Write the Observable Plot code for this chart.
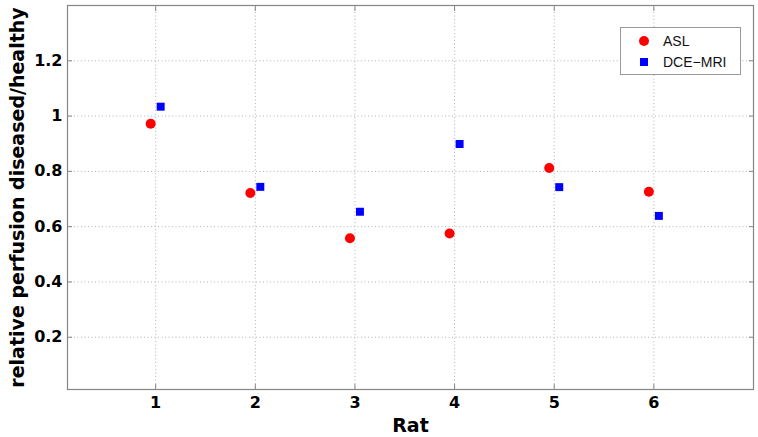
<!DOCTYPE html>
<html>
<head>
<meta charset="utf-8">
<script src="https://cdn.jsdelivr.net/npm/d3@7"></script>
<script src="https://cdn.jsdelivr.net/npm/@observablehq/plot@0.6"></script>
<style>
  html, body { margin: 0; padding: 0; background: #fff; }
  #wrap { position: relative; width: 758px; height: 437px; }
  #legend {
    position: absolute; left: 620px; top: 27px; width: 119px; height: 46px;
    border: 1px solid #9a9a9a; background: #fff;
    font-family: "Liberation Sans", Arial, sans-serif; font-size: 14px; color: #111;
  }
  .row { position: absolute; left: 0; height: 20px; display: flex; align-items: center; }
  .sym { width: 24px; display: flex; justify-content: center; margin-left: 11px; margin-right: 7px; }
  .circ { width: 10px; height: 10px; border-radius: 50%; background: #ff0000; }
  .sq { width: 8px; height: 8px; background: #0000ff; }
</style>
</head>
<body>
<div id="wrap"></div>
<script>
const rats = [1, 2, 3, 4, 5, 6];
const aslValues = [0.972, 0.722, 0.558, 0.575, 0.812, 0.726];
const dceValues = [1.034, 0.744, 0.654, 0.899, 0.743, 0.639];
const seriesNames = ["ASL", "DCE\u2212MRI"];
const xTicks = [1, 2, 3, 4, 5, 6];
const yTicks = [0.2, 0.4, 0.6, 0.8, 1, 1.2];
const xDomain = [0.115, 7];
const yDomain = [0.011, 1.4];
const xTitle = "Rat";
const yTitle = "relative perfusion diseased/healthy";

const asl = rats.map((r, i) => ({rat: r, value: aslValues[i]}));
const dce = rats.map((r, i) => ({rat: r, value: dceValues[i]}));

const axisGray = "#858585";
const gridGray = "#b4b4b4";

const chart = Plot.plot({
  width: 758,
  height: 437,
  marginLeft: 67,
  marginRight: 5,
  marginTop: 5,
  marginBottom: 48,
  style: {fontFamily: "'DejaVu Sans', sans-serif", fontSize: "16px", fontWeight: "bold", color: "black", background: "white"},
  x: {domain: xDomain},
  y: {domain: yDomain},
  marks: [
    Plot.gridX({ticks: xTicks, stroke: gridGray, strokeOpacity: 1, strokeDasharray: "1,2.5"}),
    Plot.gridY({ticks: yTicks, stroke: gridGray, strokeOpacity: 1, strokeDasharray: "1,2.5"}),
    Plot.frame({stroke: axisGray, strokeWidth: 1.2}),
    Plot.axisX({ticks: xTicks, anchor: "bottom", tickSize: -5, tickPadding: 12, stroke: axisGray, fill: "black", label: null, tickFormat: d => String(d), fontSize: 16, fontWeight: "bold"}),
    Plot.axisX({ticks: xTicks, anchor: "top", tickSize: -5, stroke: axisGray, fill: "none", label: null}),
    Plot.axisY({ticks: yTicks, anchor: "left", tickSize: -5, tickPadding: 10, stroke: axisGray, fill: "black", label: null, tickFormat: d => String(d), fontSize: 16, fontWeight: "bold"}),
    Plot.axisY({ticks: yTicks, anchor: "right", tickSize: -5, stroke: axisGray, fill: "none", label: null}),
    Plot.text([xTitle], {text: d => d, frameAnchor: "bottom", dy: 36, lineAnchor: "middle", fontSize: 19, fontWeight: "bold", fill: "black"}),
    Plot.text([yTitle], {text: d => d, frameAnchor: "left", dx: -50, rotate: -90, lineAnchor: "middle", textAnchor: "middle", fontSize: 19, fontWeight: "bold", fill: "black"}),
    Plot.dot(asl, {x: "rat", y: "value", dx: -5, r: 5, fill: "#ff0000", stroke: "none", symbol: "circle"}),
    Plot.dot(dce, {x: "rat", y: "value", dx: 5, r: 4.5, fill: "#0000ff", stroke: "none", symbol: "square"})
  ]
});

const wrap = document.getElementById("wrap");
wrap.appendChild(chart);

const legend = document.createElement("div");
legend.id = "legend";
legend.innerHTML =
  `<div class="row" style="top:3px"><div class="sym"><div class="circ"></div></div><span>${seriesNames[0]}</span></div>` +
  `<div class="row" style="top:24px"><div class="sym"><div class="sq"></div></div><span>${seriesNames[1]}</span></div>`;
wrap.appendChild(legend);
</script>
</body>
</html>
